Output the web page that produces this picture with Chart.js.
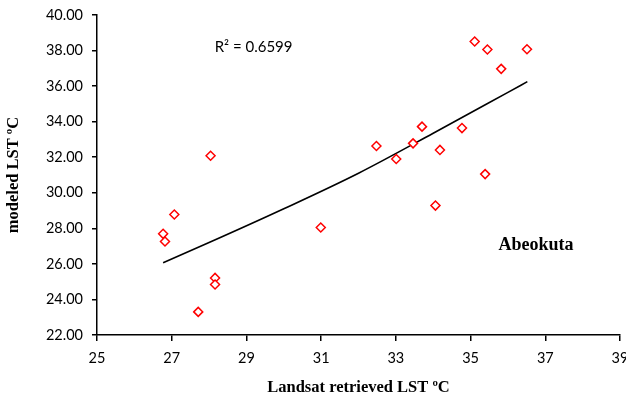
<!DOCTYPE html>
<html>
<head>
<meta charset="utf-8">
<script src="https://cdn.jsdelivr.net/npm/chart.js@4"></script>
<style>
  html, body { margin: 0; padding: 0; background: #fff; }
  #wrap { width: 626px; height: 402px; }
</style>
</head>
<body>
<div id="wrap"><canvas id="lstChart" width="626" height="402"></canvas></div>
<script>
// Landsat retrieved LST (x) vs modeled LST (y), Abeokuta
const landsatLST = [28.04, 27.07, 26.77, 26.82, 28.16, 28.16, 27.71, 30.99,
  35.11, 35.45, 36.51, 35.82, 33.70, 34.77, 32.48, 33.46, 33.01, 34.18, 35.39, 34.06];
const modeledLST = [32.08, 28.78, 27.69, 27.26, 25.21, 24.84, 23.30, 28.05,
  38.51, 38.06, 38.07, 36.97, 33.72, 33.64, 32.63, 32.78, 31.90, 32.41, 31.05, 29.28];

// trendline
const trendX = [26.77, 28, 30, 32, 34, 36, 36.52];
const trendY = [26.07, 27.20, 29.10, 31.10, 33.35, 35.65, 36.25];

const xTicks = [25, 27, 29, 31, 33, 35, 37, 39];
const yTicks = [22, 24, 26, 28, 30, 32, 34, 36, 38, 40];

const rSquared = "R\u00B2 = 0.6599";
const placeName = "Abeokuta";

const tickFont = { family: "Lato, 'Open Sans', sans-serif", size: 14.5 };
const titleFont = { family: "'Liberation Serif', 'DejaVu Serif', serif", size: 16.5, weight: "bold" };

// draws the R² note and the place name
const notes = {
  id: "notes",
  afterDatasetsDraw(chart) {
    const ctx = chart.ctx, xs = chart.scales.x, ys = chart.scales.y;
    ctx.save();
    ctx.fillStyle = "#000";
    ctx.textBaseline = "middle";
    ctx.textAlign = "left";
    ctx.font = "15px Lato, 'Open Sans', sans-serif";
    ctx.fillText(rSquared, xs.getPixelForValue(28.15), ys.getPixelForValue(38.2));
    ctx.textAlign = "center";
    ctx.font = "bold 18px 'Liberation Serif', serif";
    ctx.fillText(placeName, xs.getPixelForValue(36.75), ys.getPixelForValue(27.07));
    ctx.restore();
  }
};

const ctx = document.getElementById("lstChart").getContext("2d");
new Chart(ctx, {
  type: "scatter",
  data: {
    datasets: [
      {
        label: "points",
        data: landsatLST.map((x, i) => ({ x: x, y: modeledLST[i] })),
        pointStyle: "rectRot",
        pointRadius: 4.5,
        pointBorderWidth: 1.5,
        borderColor: "#ff0000",
        backgroundColor: "#ffffff",
        order: 1
      },
      {
        label: "trend",
        data: trendX.map((x, i) => ({ x: x, y: trendY[i] })),
        showLine: true,
        pointRadius: 0,
        borderColor: "#000",
        borderWidth: 1.6,
        cubicInterpolationMode: "monotone",
        order: 2
      }
    ]
  },
  options: {
    responsive: false,
    animation: false,
    layout: { padding: { top: 15, right: 5, left: 0, bottom: 0 } },
    plugins: { legend: { display: false }, tooltip: { enabled: false } },
    scales: {
      x: {
        type: "linear",
        min: 25, max: 39,
        afterBuildTicks: s => { s.ticks = xTicks.map(v => ({ value: v })); },
        afterFit: s => { s.height = 67; s.paddingRight = 0; s.paddingLeft = 0; },
        ticks: { color: "#000", font: tickFont, padding: 9, maxRotation: 0 },
        grid: { drawOnChartArea: false, color: "#000", tickLength: 6, lineWidth: 1.5 },
        border: { color: "#000", width: 1.5 },
        title: { display: true, text: "Landsat retrieved LST \u00BAC", color: "#000", font: titleFont, padding: { top: 6 } }
      },
      y: {
        min: 22, max: 40,
        afterBuildTicks: s => { s.ticks = yTicks.map(v => ({ value: v })); },
        afterFit: s => { s.width = 97; s.paddingTop = 0; s.paddingBottom = 0; },
        ticks: { color: "#000", font: tickFont, padding: 9, callback: v => v.toFixed(2) },
        grid: { drawOnChartArea: false, color: "#000", tickLength: 5, lineWidth: 1.5 },
        border: { color: "#000", width: 1.5 },
        title: { display: true, text: "modeled LST \u00BAC", color: "#000", font: titleFont, padding: { top: 4, bottom: 4 } }
      }
    }
  },
  plugins: [notes]
});
</script>
</body>
</html>
